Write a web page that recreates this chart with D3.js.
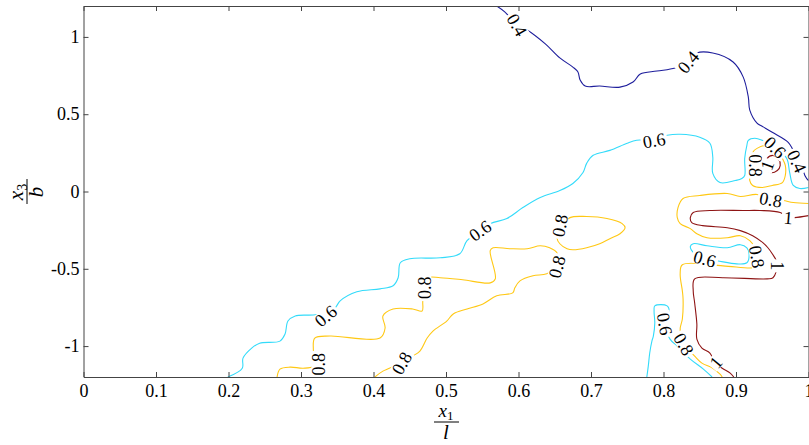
<!DOCTYPE html>
<html lang="en">
<head>
<meta charset="UTF-8">
<title>Contour plot</title>
<style>
  body { margin: 0; background: #fff; }
  .axis path, .axis line { stroke: #444; }
</style>
</head>
<body>
<div id="chart"></div>
<script src="https://cdn.jsdelivr.net/npm/d3@7"></script>
<script>
const xTicks = [0, 0.1, 0.2, 0.3, 0.4, 0.5, 0.6, 0.7, 0.8, 0.9, 1];
const yTicks = [-1, -0.5, 0, 0.5, 1];

// contour lines, [x1/l, x3/b]
const c04 = [[0.570,1.2],[0.581,1.162],[0.598,1.078],[0.612,1.045],[0.637,0.955],[0.657,0.864],[0.675,0.805],[0.682,0.773],[0.685,0.721],[0.692,0.682],[0.712,0.682],[0.740,0.675],[0.758,0.708],[0.768,0.760],[0.791,0.779],[0.816,0.799],[0.834,0.838],[0.846,0.896],[0.868,0.896],[0.896,0.838],[0.910,0.740],[0.917,0.610],[0.919,0.526],[0.929,0.442],[0.936,0.422],[0.950,0.383],[0.972,0.318],[0.979,0.266],[0.990,0.188],[0.995,0.104],[1.0,0.071]];

const c06a = [[0.199,-1.2],[0.219,-1.143],[0.220,-1.078],[0.232,-1.013],[0.243,-0.981],[0.271,-0.968],[0.278,-0.922],[0.282,-0.838],[0.292,-0.805],[0.317,-0.799],[0.334,-0.786],[0.347,-0.753],[0.354,-0.708],[0.377,-0.649],[0.409,-0.630],[0.427,-0.610],[0.434,-0.558],[0.437,-0.461],[0.450,-0.435],[0.492,-0.429],[0.519,-0.403],[0.529,-0.318],[0.544,-0.266],[0.561,-0.208],[0.584,-0.175],[0.606,-0.104],[0.630,-0.039],[0.657,0.006],[0.675,0.052],[0.689,0.123],[0.694,0.182],[0.703,0.234],[0.726,0.266],[0.750,0.312],[0.763,0.331],[0.785,0.338],[0.805,0.364],[0.823,0.370],[0.850,0.351],[0.864,0.312],[0.868,0.221],[0.868,0.117],[0.878,0.058],[0.899,0.071],[0.908,0.084],[0.912,0.104],[0.912,0.214],[0.915,0.299],[0.917,0.331],[0.926,0.344],[0.936,0.331],[0.954,0.286],[0.970,0.214],[0.974,0.123],[0.979,0.039],[0.988,0.019],[1.0,0.026]];
const c06b = [[0.837,-0.357],[0.841,-0.338],[0.860,-0.351],[0.888,-0.364],[0.906,-0.344],[0.915,-0.364],[0.918,-0.403],[0.915,-0.461],[0.901,-0.468],[0.874,-0.448],[0.857,-0.435],[0.843,-0.403]];
const c06c = [[0.777,-1.2],[0.779,-1.130],[0.781,-1.045],[0.784,-0.968],[0.786,-0.935],[0.788,-0.851],[0.787,-0.773],[0.788,-0.740],[0.805,-0.740],[0.808,-0.786],[0.802,-0.857],[0.809,-0.955],[0.819,-1.0],[0.837,-1.084],[0.855,-1.149],[0.867,-1.2]];

const c08a = [[0.267,-1.2],[0.271,-1.149],[0.285,-1.136],[0.303,-1.143],[0.317,-1.130],[0.318,-1.065],[0.317,-1.019],[0.319,-0.948],[0.340,-0.935],[0.409,-0.948],[0.416,-0.883],[0.413,-0.805],[0.427,-0.760],[0.454,-0.760],[0.467,-0.773],[0.468,-0.708],[0.471,-0.630],[0.475,-0.558],[0.492,-0.558],[0.523,-0.571],[0.561,-0.591],[0.568,-0.565],[0.561,-0.383],[0.565,-0.364],[0.588,-0.370],[0.612,-0.370],[0.630,-0.351],[0.643,-0.364],[0.653,-0.396],[0.653,-0.481],[0.639,-0.532],[0.620,-0.545],[0.602,-0.578],[0.595,-0.623],[0.592,-0.656],[0.570,-0.675],[0.551,-0.727],[0.529,-0.760],[0.510,-0.792],[0.501,-0.838],[0.482,-0.903],[0.474,-0.948],[0.464,-1.032],[0.454,-1.065],[0.439,-1.110],[0.413,-1.162],[0.402,-1.2]];
const c08b = [[0.653,-0.299],[0.657,-0.234],[0.671,-0.169],[0.694,-0.162],[0.722,-0.175],[0.743,-0.208],[0.747,-0.234],[0.740,-0.273],[0.726,-0.305],[0.712,-0.338],[0.694,-0.364],[0.675,-0.377],[0.667,-0.370],[0.657,-0.338]];
const c08c = [[1.0,-0.078],[0.979,-0.071],[0.965,-0.058],[0.950,-0.052],[0.929,-0.019],[0.906,-0.032],[0.888,-0.013],[0.850,-0.026],[0.827,-0.045],[0.820,-0.104],[0.819,-0.169],[0.823,-0.208],[0.837,-0.240],[0.846,-0.273],[0.860,-0.299],[0.888,-0.299],[0.906,-0.286],[0.919,-0.318],[0.926,-0.364],[0.929,-0.422],[0.930,-0.481],[0.923,-0.494],[0.882,-0.481],[0.826,-0.474],[0.823,-0.532],[0.826,-0.643],[0.827,-0.695],[0.826,-0.825],[0.823,-0.890],[0.827,-0.981],[0.843,-1.065],[0.853,-1.110],[0.868,-1.143],[0.878,-1.182],[0.881,-1.2]];
const c08d = [[0.929,0.279],[0.944,0.299],[0.957,0.266],[0.964,0.214],[0.968,0.169],[0.968,0.104],[0.964,0.058],[0.950,0.039],[0.936,0.026],[0.923,0.039],[0.919,0.071],[0.921,0.169],[0.923,0.253]];

const c10a = [[0.943,0.214],[0.951,0.234],[0.958,0.214],[0.961,0.169],[0.957,0.136],[0.947,0.123],[0.941,0.169]];
const c10b = [[1.0,-0.156],[0.981,-0.169],[0.972,-0.169],[0.961,-0.136],[0.933,-0.123],[0.910,-0.123],[0.864,-0.123],[0.841,-0.136],[0.837,-0.169],[0.839,-0.201],[0.854,-0.221],[0.888,-0.234],[0.906,-0.253],[0.923,-0.286],[0.937,-0.331],[0.944,-0.364],[0.950,-0.403],[0.957,-0.468],[0.951,-0.558],[0.943,-0.565],[0.882,-0.558],[0.843,-0.565],[0.841,-0.643],[0.843,-0.721],[0.846,-0.857],[0.846,-0.955],[0.853,-1.013],[0.864,-1.045],[0.871,-1.104],[0.881,-1.143],[0.892,-1.175],[0.897,-1.2]];

// level, points, closed loop?
const contours = [
  [0.4, c04, false],
  [0.6, c06a, false], [0.6, c06b, true], [0.6, c06c, false],
  [0.8, c08a, false], [0.8, c08b, true], [0.8, c08c, false], [0.8, c08d, true],
  [1, c10a, true], [1, c10b, false]
];

// clabel texts: x, y, text, angle
const labels = [
  [0.598, 1.078, "0.4", 60], [0.834, 0.838, "0.4", -50], [0.984, 0.195, "0.4", 65],
  [0.787, 0.331, "0.6", -10], [0.547, -0.253, "0.6", -35], [0.334, -0.805, "0.6", -40],
  [0.954, 0.286, "0.6", 45], [0.857, -0.435, "0.6", 15], [0.802, -0.857, "0.6", 80],
  [0.324, -1.117, "0.8", -90], [0.470, -0.623, "0.8", -90], [0.439, -1.110, "0.8", -60],
  [0.653, -0.487, "0.8", -75], [0.657, -0.221, "0.8", -80], [0.926, 0.169, "0.8", 90],
  [0.948, -0.052, "0.8", 10], [0.929, -0.422, "0.8", 80], [0.828, -0.987, "0.8", 60],
  [0.943, 0.169, "1", -70], [0.972, -0.169, "1", 5], [0.957, -0.481, "1", 90],
  [0.872, -1.104, "1", -50]
];

const colors = { 0.4: "#1e1e9c", 0.6: "#33dbfa", 0.8: "#ffc814", 1: "#8e1414" };
const serif = "'Liberation Serif', 'DejaVu Serif', serif";

const W = 809, H = 445;
const mLeft = 83.5, mRight = 808.5, mTop = 6, mBottom = 377;

const x = d3.scaleLinear().domain([0, 1]).range([mLeft, mRight]);
const y = d3.scaleLinear().domain([-1.2, 1.2]).range([mBottom, mTop]);

const svg = d3.select("#chart").append("svg")
  .attr("width", W).attr("height", H)
  .attr("font-family", serif);

svg.append("clipPath").attr("id", "plot")
  .append("rect").attr("x", mLeft).attr("y", mTop)
  .attr("width", mRight - mLeft).attr("height", mBottom - mTop);

const lineOpen = d3.line().x(d => x(d[0])).y(d => y(d[1])).curve(d3.curveCatmullRom.alpha(0.5));
const lineClosed = d3.line().x(d => x(d[0])).y(d => y(d[1])).curve(d3.curveCatmullRomClosed.alpha(0.5));

const plot = svg.append("g").attr("clip-path", "url(#plot)");

plot.selectAll("path.contour")
  .data(contours)
  .join("path")
  .attr("class", "contour")
  .attr("fill", "none")
  .attr("stroke", d => colors[d[0]])
  .attr("stroke-width", 1.1)
  .attr("d", d => d[2] ? lineClosed(d[1]) : lineOpen(d[1]));

// contour labels with white gap behind
const lab = plot.selectAll("g.lab")
  .data(labels)
  .join("g")
  .attr("class", "lab")
  .attr("transform", d => `translate(${x(d[0])},${y(d[1])}) rotate(${d[3]})`);

lab.append("text")
  .attr("text-anchor", "middle")
  .attr("dy", "0.35em")
  .attr("font-size", 18)
  .attr("fill", "#000")
  .text(d => d[2]);

lab.each(function () {
  const g = d3.select(this);
  const w = g.select("text").node().getComputedTextLength();
  g.insert("rect", "text")
    .attr("x", -w / 2 - 2).attr("y", -7)
    .attr("width", w + 4).attr("height", 14)
    .attr("fill", "#fff");
});

// axes, ticks pointing inward on all four sides
const styleText = g => g.attr("font-family", serif)
  .selectAll("text").attr("font-size", 18).attr("fill", "#000");

svg.append("g").attr("class", "axis")
  .attr("transform", `translate(0,${mBottom})`)
  .call(d3.axisBottom(x).tickValues(xTicks).tickSizeInner(-5).tickSizeOuter(0)
    .tickPadding(7).tickFormat(d => String(d)))
  .call(styleText);

svg.append("g").attr("class", "axis")
  .attr("transform", `translate(0,${mTop})`)
  .call(d3.axisTop(x).tickValues(xTicks).tickSizeInner(-5).tickSizeOuter(0).tickFormat(""));

svg.append("g").attr("class", "axis")
  .attr("transform", `translate(${mLeft},0)`)
  .call(d3.axisLeft(y).tickValues(yTicks).tickSizeInner(-5).tickSizeOuter(0)
    .tickPadding(4).tickFormat(d => String(d)))
  .call(styleText);

svg.append("g").attr("class", "axis")
  .attr("transform", `translate(${mRight},0)`)
  .call(d3.axisRight(y).tickValues(yTicks).tickSizeInner(-5).tickSizeOuter(0).tickFormat(""));

// axis titles as fractions
const xt = svg.append("g").attr("transform", "translate(446,422)");
xt.append("text").attr("text-anchor", "middle").attr("y", -5).attr("font-size", 19)
  .call(t => {
    t.append("tspan").attr("font-style", "italic").text("x");
    t.append("tspan").attr("font-size", 13).attr("dy", 3).text("1");
  });
xt.append("line").attr("x1", -12).attr("x2", 13).attr("stroke", "#000");
xt.append("text").attr("text-anchor", "middle").attr("y", 17).attr("font-size", 21)
  .attr("font-style", "italic").text("l");

const yt = svg.append("g").attr("transform", "translate(27,192) rotate(-90)");
yt.append("text").attr("text-anchor", "middle").attr("y", -4).attr("font-size", 21)
  .call(t => {
    t.append("tspan").attr("font-style", "italic").text("x");
    t.append("tspan").attr("font-size", 14).attr("dy", 4).text("3");
  });
yt.append("line").attr("x1", -12).attr("x2", 13).attr("stroke", "#000");
yt.append("text").attr("text-anchor", "middle").attr("y", 16).attr("font-size", 21)
  .attr("font-style", "italic").text("b");
</script>
</body>
</html>
